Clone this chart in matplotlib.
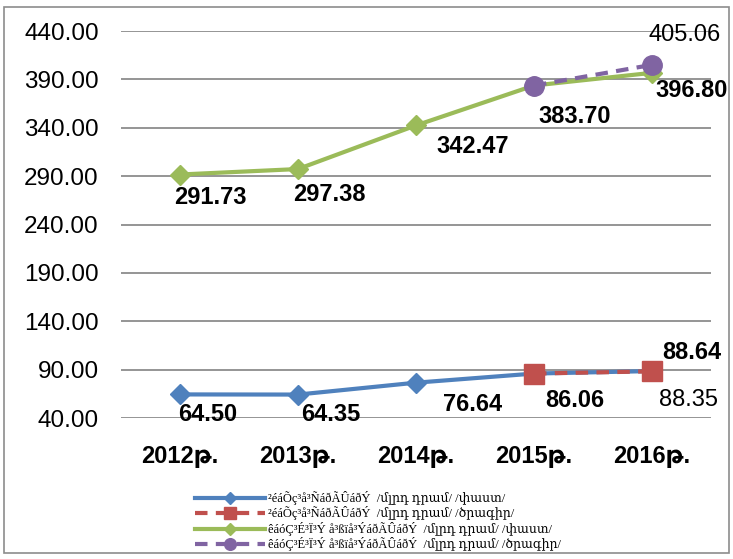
import numpy as np
import matplotlib
matplotlib.use("Agg")
import matplotlib.pyplot as plt
from matplotlib.patches import Rectangle

# data
years = ['2012թ.', '2013թ.', '2014թ.', '2015թ.', '2016թ.']
health_fact = [64.50, 64.35, 76.64, 86.06, 88.64]
health_plan = [86.06, 88.35]          # 2015, 2016
social_fact = [291.73, 297.38, 342.47, 383.70, 396.80]
social_plan = [383.70, 405.06]        # 2015, 2016
yticks = [40, 90, 140, 190, 240, 290, 340, 390, 440]

legend_labels = [
    '²éáÕç³å³ÑáðÃÛáðÝ  /մլրդ դրամ/ /փաստ/',
    '²éáÕç³å³ÑáðÃÛáðÝ  /մլրդ դրամ/ /ծրագիր/',
    'êáóÇ³É³Ï³Ý å³ßïå³ÝáðÃÛáðÝ  /մլրդ դրամ/ /փաստ/',
    'êáóÇ³É³Ï³Ý å³ßïå³ÝáðÃÛáðÝ  /մլրդ դրամ/ /ծրագիր/',
]

sans = ['Liberation Sans', 'DejaVu Sans']
serif = ['Liberation Serif', 'DejaVu Serif']

fig = plt.figure(figsize=(7.33, 5.59), dpi=100)
ax = fig.add_axes([0.165, 0.252, 0.805, 0.6925])

x = np.arange(len(years))
xp = x[3:]

l1, = ax.plot(x, health_fact, color='#4F81BD', lw=3, marker='D', ms=10, zorder=3)
l2, = ax.plot(xp, health_plan, color='#C0504D', lw=3, ls=(0, (3, 2)), marker='s', ms=14, zorder=4)
l3, = ax.plot(x, social_fact, color='#9BBB59', lw=3, marker='D', ms=10, zorder=3)
l4, = ax.plot(xp, social_plan, color='#8064A2', lw=3, ls=(0, (3, 2)), marker='o', ms=14, zorder=4)

ax.set_xlim(-0.5, 4.5)
ax.set_ylim(40, 440)
ax.set_yticks(yticks)
ax.set_yticklabels(['%.2f' % v for v in yticks], fontsize=17.5, family=sans)
ax.set_xticks(x)
ax.set_xticklabels(years, fontsize=17, fontweight='bold', family=sans)
ax.tick_params(axis='y', length=0, pad=16)
ax.tick_params(axis='x', length=0, pad=19)
for s in ax.spines.values():
    s.set_visible(False)
ax.grid(axis='y', color='#8c8c8c', lw=1.3)
ax.set_axisbelow(True)

# data labels (offsets in pixels)
def lab(xi, yi, dx, dy, bold=True):
    ax.annotate('%.2f' % yi, (xi, yi), xytext=(dx * 0.72, dy * 0.72),
                textcoords='offset points', ha='center', va='center',
                fontsize=17, fontweight='bold' if bold else 'normal',
                family=sans, zorder=6)

soc_off = [(30, -23), (31, -25), (57, -21), (41, -31), (40, -18)]
hea_off = [(28, -20), (33, -20), (57, -22), (41, -27), (40, 19)]
for i in range(5):
    lab(x[i], social_fact[i], *soc_off[i])
    lab(x[i], health_fact[i], *hea_off[i])
lab(4, social_plan[1], 33, 30, bold=False)
lab(4, health_plan[1], 36, -29, bold=False)

fig.legend([l1, l2, l3, l4], legend_labels, loc='upper left',
           bbox_to_anchor=(0.257, 0.133), frameon=False,
           prop={'family': serif, 'size': 9}, handlelength=5.6,
           handletextpad=0.3, labelspacing=0.12, borderpad=0,
           markerscale=0.6)

fig.patches.append(Rectangle((4 / 733, 1 - 553 / 559), 725 / 733, 546 / 559,
                             transform=fig.transFigure, fill=False,
                             edgecolor='#8c8c8c', lw=1.2))

fig.savefig('out.png', dpi=100)
